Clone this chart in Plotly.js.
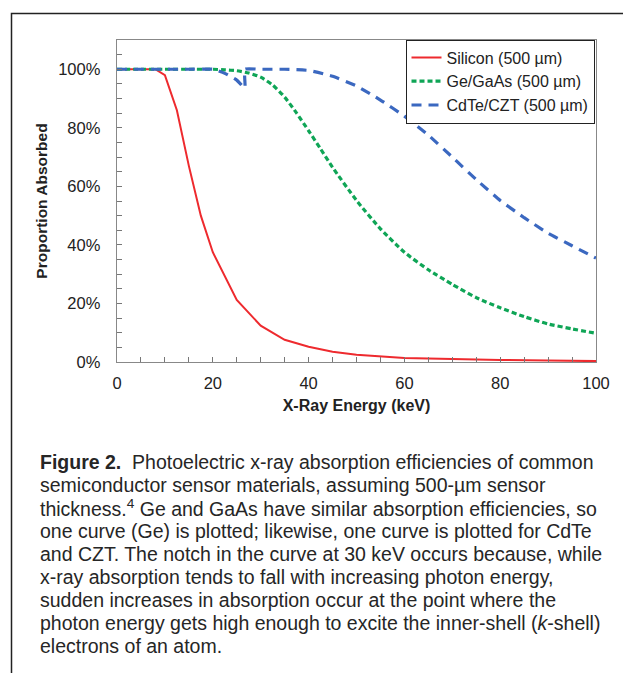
<!DOCTYPE html>
<html>
<head>
<meta charset="utf-8">
<script src="https://cdn.plot.ly/plotly-3.0.1.min.js"></script>
<style>
html,body{margin:0;padding:0;background:#fff;}
#chart{width:623px;height:673px;}
</style>
</head>
<body>
<div id="chart"></div>
<script>
// ---- data ----
const siliconEnergy = [0, 5, 8, 10, 12.5, 15, 17.5, 20, 25, 30, 35, 40, 45, 50, 55, 60, 65, 70, 80, 90, 100];
const siliconAbs    = [100, 100, 100, 98, 86, 67, 50, 37.5, 21.2, 12.4, 7.6, 5.2, 3.5, 2.5, 1.9, 1.4, 1.2, 1.0, 0.7, 0.5, 0.3];

const geEnergy = [0, 5, 10, 15, 20, 22.5, 25, 27.5, 30, 32.5, 35, 37.5, 40, 42.5, 45, 50, 55, 60, 65, 70, 75, 80, 85, 90, 95, 100];
const geAbs    = [100, 100, 100, 100, 100, 99.8, 99.5, 98.7, 97.3, 94.6, 90.5, 85, 79, 72.8, 66.5, 55.2, 45.5, 37.5, 31.5, 26.5, 22, 18.5, 15.5, 13, 11.3, 9.8];

const cdteEnergy = [0, 5, 10, 15, 20, 22.5, 25, 26.7, 26.71, 30, 35, 40, 45, 50, 55, 60, 65, 70, 75, 80, 85, 90, 95, 100];
const cdteAbs    = [100, 100, 100, 100, 100, 98.6, 96.3, 93.6, 100, 100, 100, 99.6, 97.6, 94.3, 89.5, 84, 77.5, 70, 62.3, 55.2, 49.3, 44, 39.7, 35.5];

const seriesNames = ["Silicon (500 µm)", "Ge/GaAs (500 µm)", "CdTe/CZT (500 µm)"];
const xTitle = "X-Ray Energy (keV)";
const yTitle = "Proportion Absorbed";
const captionLines = [
  "<b>Figure 2.</b>\u00a0 Photoelectric x-ray absorption efficiencies of common",
  "semiconductor sensor materials, assuming 500-µm sensor",
  "thickness.<sup>4</sup> Ge and GaAs have similar absorption efficiencies, so",
  "one curve (Ge) is plotted; likewise, one curve is plotted for CdTe",
  "and CZT. The notch in the curve at 30 keV occurs because, while",
  "x-ray absorption tends to fall with increasing photon energy,",
  "sudden increases in absorption occur at the point where the",
  "photon energy gets high enough to excite the inner-shell (<i>k</i>-shell)",
  "electrons of an atom."
];

// ---- layout geometry ----
const W = 623, H = 673;
const M = {l: 117, r: 27, t: 40, b: 311};
const pw = W - M.l - M.r, ph = H - M.t - M.b;
const px2x = p => (p - M.l) / pw;
const px2y = p => (H - M.b - p) / ph;

const FONT = "Liberation Sans, Arial, Helvetica, sans-serif";

const traces = [
  {x: siliconEnergy, y: siliconAbs, name: seriesNames[0], mode: "lines", legendgroup: "a",
   line: {color: "#ee2a2e", width: 2}},
  {x: geEnergy, y: geAbs, name: seriesNames[1], mode: "lines", legendgroup: "b",
   line: {color: "#0fa556", width: 3.2, dash: "5px,3px", shape: "spline", smoothing: 0.6}},
  {x: cdteEnergy, y: cdteAbs, name: seriesNames[2], mode: "lines", legendgroup: "c",
   line: {color: "#3b68c0", width: 3.2, dash: "10px,7px", shape: "spline", smoothing: 0.4}}
];

const annotations = captionLines.map((t, i) => ({
  xref: "paper", yref: "paper",
  x: px2x(38), y: px2y(462 + 23 * i),
  xanchor: "left", yanchor: "middle",
  text: t, showarrow: false, align: "left",
  font: {family: FONT, size: 19.5, color: "#262626"}
}));

const frame = {type: "path", xref: "paper", yref: "paper",
  path: `M ${px2x(11.5)} ${px2y(H + 5)} L ${px2x(11.5)} ${px2y(13.5)} L ${px2x(W + 5)} ${px2y(13.5)}`,
  line: {color: "#222", width: 1.5}};

const layout = {
  width: W, height: H,
  margin: M,
  paper_bgcolor: "#fff", plot_bgcolor: "#fff",
  font: {family: FONT, color: "#222"},
  showlegend: true,
  legend: {
    x: px2x(405.5), y: px2y(39.5), xanchor: "left", yanchor: "top",
    bgcolor: "#fff", bordercolor: "#222", borderwidth: 1,
    font: {family: FONT, size: 16, color: "#222"},
    traceorder: "grouped", tracegroupgap: 0, itemwidth: 30
  },
  xaxis: {
    range: [0, 100], dtick: 20, tick0: 0,
    ticks: "inside", ticklen: 5, tickcolor: "#777", tickwidth: 1,
    minor: {dtick: 5, ticks: "inside", ticklen: 5, tickcolor: "#777"},
    showgrid: false, zeroline: false,
    showline: true, linecolor: "#888", linewidth: 1.3, mirror: true,
    tickfont: {family: FONT, size: 16.5, color: "#222"},
    ticklabelstandoff: 6,
    title: {text: "<b>" + xTitle + "</b>", font: {family: FONT, size: 16, color: "#222"}, standoff: 8}
  },
  yaxis: {
    range: [0, 110], dtick: 20, tick0: 0, ticksuffix: "%",
    ticks: "inside", ticklen: 5, tickcolor: "#777", tickwidth: 1,
    minor: {dtick: 5, ticks: "inside", ticklen: 5, tickcolor: "#777"},
    showgrid: false, zeroline: false,
    showline: true, linecolor: "#888", linewidth: 1.3, mirror: true,
    tickfont: {family: FONT, size: 16.5, color: "#222"},
    ticklabelstandoff: 12,
    title: {text: "<b>" + yTitle + "</b>", font: {family: FONT, size: 15.5, color: "#222"}, standoff: 6}
  },
  shapes: [frame],
  annotations: annotations
};

Plotly.newPlot("chart", traces, layout, {displayModeBar: false, staticPlot: true});
</script>
</body>
</html>
